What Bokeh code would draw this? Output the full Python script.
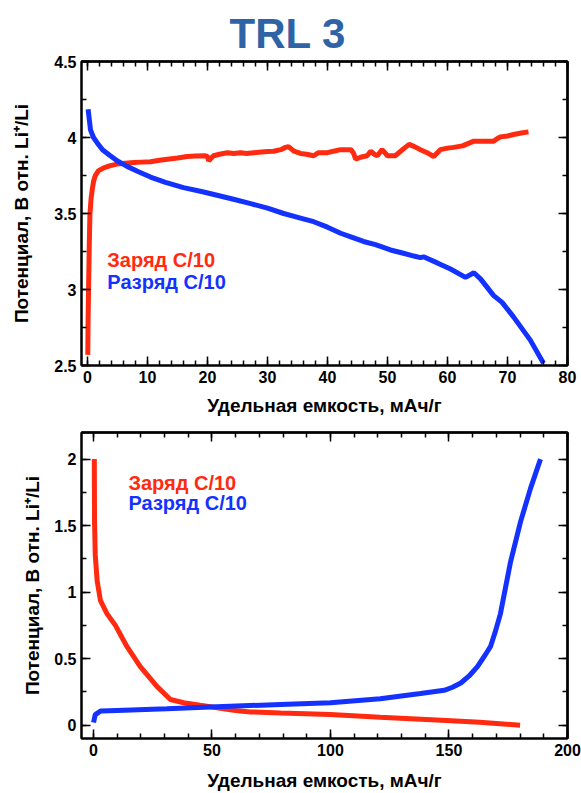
from bokeh.plotting import figure
from bokeh.layouts import column
from bokeh.models import FixedTicker, LinearAxis, Label, Range1d
from bokeh.embed import file_html
from bokeh.resources import INLINE

# ---------------- data ----------------
top_charge_x = [0.05, 0.1, 0.2, 0.3, 0.4, 0.6, 0.8, 1.0, 1.3, 1.8, 2.7, 3.8, 4.9, 6.3, 7.7, 9.0,
                10.5, 12.0, 13.3, 15.0, 16.6, 18.0, 19.5, 20.0, 20.2, 20.5, 21.0, 22.0, 23.3, 24.4,
                25.5, 26.5, 27.7, 29.0, 30.0, 31.0, 32.2, 33.0, 33.5, 34.4, 35.5, 36.5, 37.7, 38.5,
                40.0, 41.0, 42.2, 43.9, 44.3, 44.7, 45.5, 46.6, 47.2, 47.8, 48.3, 49.1, 50.0, 51.3,
                52.5, 53.6, 54.5, 55.5, 56.6, 57.7, 58.8, 60.0, 61.0, 62.5, 64.4, 66.0, 67.7, 68.2,
                68.8, 70.0, 71.0, 72.3, 73.5]
top_charge_y = [2.57, 2.8, 3.06, 3.3, 3.49, 3.6, 3.66, 3.71, 3.75, 3.78, 3.80, 3.815, 3.825, 3.83,
                3.835, 3.838, 3.84, 3.85, 3.857, 3.865, 3.875, 3.878, 3.88, 3.875, 3.846, 3.86, 3.88,
                3.89, 3.90, 3.895, 3.9, 3.895, 3.90, 3.905, 3.908, 3.91, 3.92, 3.935, 3.94, 3.91,
                3.895, 3.89, 3.88, 3.90, 3.90, 3.91, 3.92, 3.92, 3.90, 3.857, 3.87, 3.88, 3.91, 3.89,
                3.88, 3.92, 3.88, 3.88, 3.92, 3.955, 3.94, 3.92, 3.90, 3.875, 3.92, 3.93, 3.935,
                3.945, 3.976, 3.975, 3.976, 3.99, 4.004, 4.01, 4.02, 4.03, 4.037]

top_dis_x = [0.1, 0.5, 1.0, 1.6, 2.5, 3.8, 5.0, 6.6, 8.5, 10.5, 13.0, 16.0, 19.0, 21.6, 24.5,
             27.2, 30.0, 32.7, 35.5, 37.7, 40.0, 42.2, 44.0, 46.0, 48.0, 50.5, 52.5, 54.4, 55.5,
             56.0, 58.3, 60.5, 63.0, 64.4, 65.5, 67.7, 69.1, 71.0, 73.8, 76.0]
top_dis_y = [4.186, 4.05, 4.0, 3.966, 3.92, 3.88, 3.845, 3.81, 3.775, 3.74, 3.705, 3.67, 3.645,
             3.62, 3.592, 3.565, 3.535, 3.5, 3.47, 3.446, 3.41, 3.37, 3.345, 3.316, 3.295, 3.26,
             3.24, 3.22, 3.21, 3.215, 3.175, 3.135, 3.08, 3.11, 3.07, 2.96, 2.915, 2.82, 2.667, 2.515]

bot_charge_x = [0.4, 0.5, 0.8, 1.6, 3.0, 5.8, 9.3, 14.2, 19.8, 26.9, 32.5, 38.1, 45.0, 52.2, 60.0,
                66.2, 79.0, 100.0, 121.0, 149.0, 163.0, 180.0]
bot_charge_y = [2.0, 1.53, 1.28, 1.085, 0.936, 0.837, 0.75, 0.59, 0.44, 0.29, 0.193, 0.169, 0.15,
                0.131, 0.11, 0.10, 0.092, 0.08, 0.06, 0.035, 0.022, 0.0]

bot_dis_x = [0.1, 0.8, 3.0, 10.0, 31.0, 52.0, 79.0, 100.0, 121.0, 138.0, 148.0, 151.5, 155.0,
             158.5, 162.0, 165.0, 167.5, 169.5, 171.7, 176.0, 180.2, 184.4, 188.6]
bot_dis_y = [0.02, 0.08, 0.106, 0.111, 0.124, 0.139, 0.156, 0.169, 0.198, 0.238, 0.262, 0.285,
             0.317, 0.37, 0.44, 0.52, 0.59, 0.7, 0.837, 1.23, 1.53, 1.78, 2.0]

top_xticks = [0, 10, 20, 30, 40, 50, 60, 70, 80]
top_xminor = [v for v in range(0, 81, 2)]
top_yticks = [2.5, 3, 3.5, 4, 4.5]
top_yminor = [2.5 + 0.25 * i for i in range(9)]
top_ylabels = {2.5: "2.5", 3: "3", 3.5: "3.5", 4: "4", 4.5: "4.5"}

bot_xticks = [0, 50, 100, 150, 200]
bot_xminor = [v for v in range(0, 201, 10)]
bot_yticks = [0, 0.5, 1, 1.5, 2]
bot_yminor = [0.25 * i for i in range(9)]
bot_ylabels = {0: "0", 0.5: "0.5", 1: "1", 1.5: "1.5", 2: "2"}

title_text = "TRL 3"
xlabel = "Удельная емкость, мАч/г"
ylabel = "Потенциал, В отн. Li⁺/Li"
charge_label = "Заряд C/10"
discharge_label = "Разряд C/10"

RED = "#ff2a10"
BLUE = "#1432ff"
FONT = "Liberation Sans"


def tick_style(ax):
    ax.major_tick_in = 9
    ax.major_tick_out = 0
    ax.minor_tick_in = 5
    ax.minor_tick_out = 0
    ax.major_tick_line_width = 1.5
    ax.minor_tick_line_width = 1.5
    ax.axis_line_width = 2
    ax.major_tick_line_color = "black"
    ax.minor_tick_line_color = "black"
    ax.axis_line_color = "black"


def main_axis(ax, ticks, minor, overrides=None):
    ax.ticker = FixedTicker(ticks=ticks, minor_ticks=minor)
    tick_style(ax)
    ax.major_label_text_font = FONT
    ax.major_label_text_font_style = "bold"
    ax.major_label_text_font_size = "16px"
    ax.major_label_text_color = "black"
    ax.major_label_standoff = 5
    if overrides:
        ax.major_label_overrides = overrides


def mirror_axes(p, side, ticks, minor):
    # label-free mirror axes: major ticks and minor ticks drawn as tick-only axes
    a_major = LinearAxis(ticker=FixedTicker(ticks=[], minor_ticks=ticks))
    a_minor = LinearAxis(ticker=FixedTicker(ticks=[], minor_ticks=minor))
    for ax, ln in ((a_major, 9), (a_minor, 5)):
        tick_style(ax)
        ax.minor_tick_in = ln
        ax.major_label_standoff = 0
        p.add_layout(ax, side)


def make_fig(height, xr, yr, xt, xm, yt, ym, ylab, mb_top, mb_bottom, title=None,
             xstand=8, ystand=20):
    kw = dict(width=581, height=height, x_range=Range1d(*xr), y_range=Range1d(*yr),
              output_backend="svg", toolbar_location=None, min_border_left=81,
              min_border_right=14, min_border_top=mb_top, min_border_bottom=mb_bottom)
    if title:
        kw["title"] = title
    p = figure(**kw)
    p.grid.visible = False
    p.outline_line_color = "black"
    p.outline_line_width = 2
    p.background_fill_color = "white"
    p.border_fill_color = "white"

    main_axis(p.xaxis[0], xt, xm)
    main_axis(p.yaxis[0], yt, ym, ylab)
    p.xaxis[0].axis_label = xlabel
    p.yaxis[0].axis_label = ylabel
    for ax in (p.xaxis[0], p.yaxis[0]):
        ax.axis_label_text_font = FONT
        ax.axis_label_text_font_style = "bold"
        ax.axis_label_text_font_size = "19px"
        ax.axis_label_text_color = "black"
    p.xaxis[0].axis_label_standoff = xstand
    p.yaxis[0].axis_label_standoff = ystand

    mirror_axes(p, "above", xt, xm)
    mirror_axes(p, "right", yt, ym)
    return p


# ---------------- top chart ----------------
p1 = make_fig(418, (-1, 80), (2.5, 4.5), top_xticks, top_xminor, top_yticks, top_yminor,
              top_ylabels, 61, 50, title=title_text, xstand=9, ystand=19)
p1.title.align = "left"
p1.title.offset = 148
p1.title.text_font = FONT
p1.title.text_font_size = "42px"
p1.title.text_font_style = "bold"
p1.title.text_color = "#2e64a6"
p1.title.standoff = 10

p1.line(top_charge_x, top_charge_y, line_color=RED, line_width=5)
p1.line(top_dis_x, top_dis_y, line_color=BLUE, line_width=5)
p1.add_layout(Label(x=3.3, y=3.195, text=charge_label, text_color=RED, text_font=FONT,
                    text_font_style="bold", text_font_size="20px", text_baseline="middle"))
p1.add_layout(Label(x=3.3, y=3.05, text=discharge_label, text_color=BLUE, text_font=FONT,
                    text_font_style="bold", text_font_size="20px", text_baseline="middle"))

# ---------------- bottom chart ----------------
p2 = make_fig(375, (-5, 200), (-0.1, 2.2), bot_xticks, bot_xminor, bot_yticks, bot_yminor,
              bot_ylabels, 14, 54, xstand=11, ystand=8)
p2.line(bot_charge_x, bot_charge_y, line_color=RED, line_width=5)
p2.line(bot_dis_x, bot_dis_y, line_color=BLUE, line_width=5)
p2.add_layout(Label(x=14.8, y=1.82, text=charge_label, text_color=RED, text_font=FONT,
                    text_font_style="bold", text_font_size="20px", text_baseline="middle"))
p2.add_layout(Label(x=14.8, y=1.67, text=discharge_label, text_color=BLUE, text_font=FONT,
                    text_font_style="bold", text_font_size="20px", text_baseline="middle"))

layout = column(p1, p2)
open("out.html", "w").write(file_html(layout, INLINE))
